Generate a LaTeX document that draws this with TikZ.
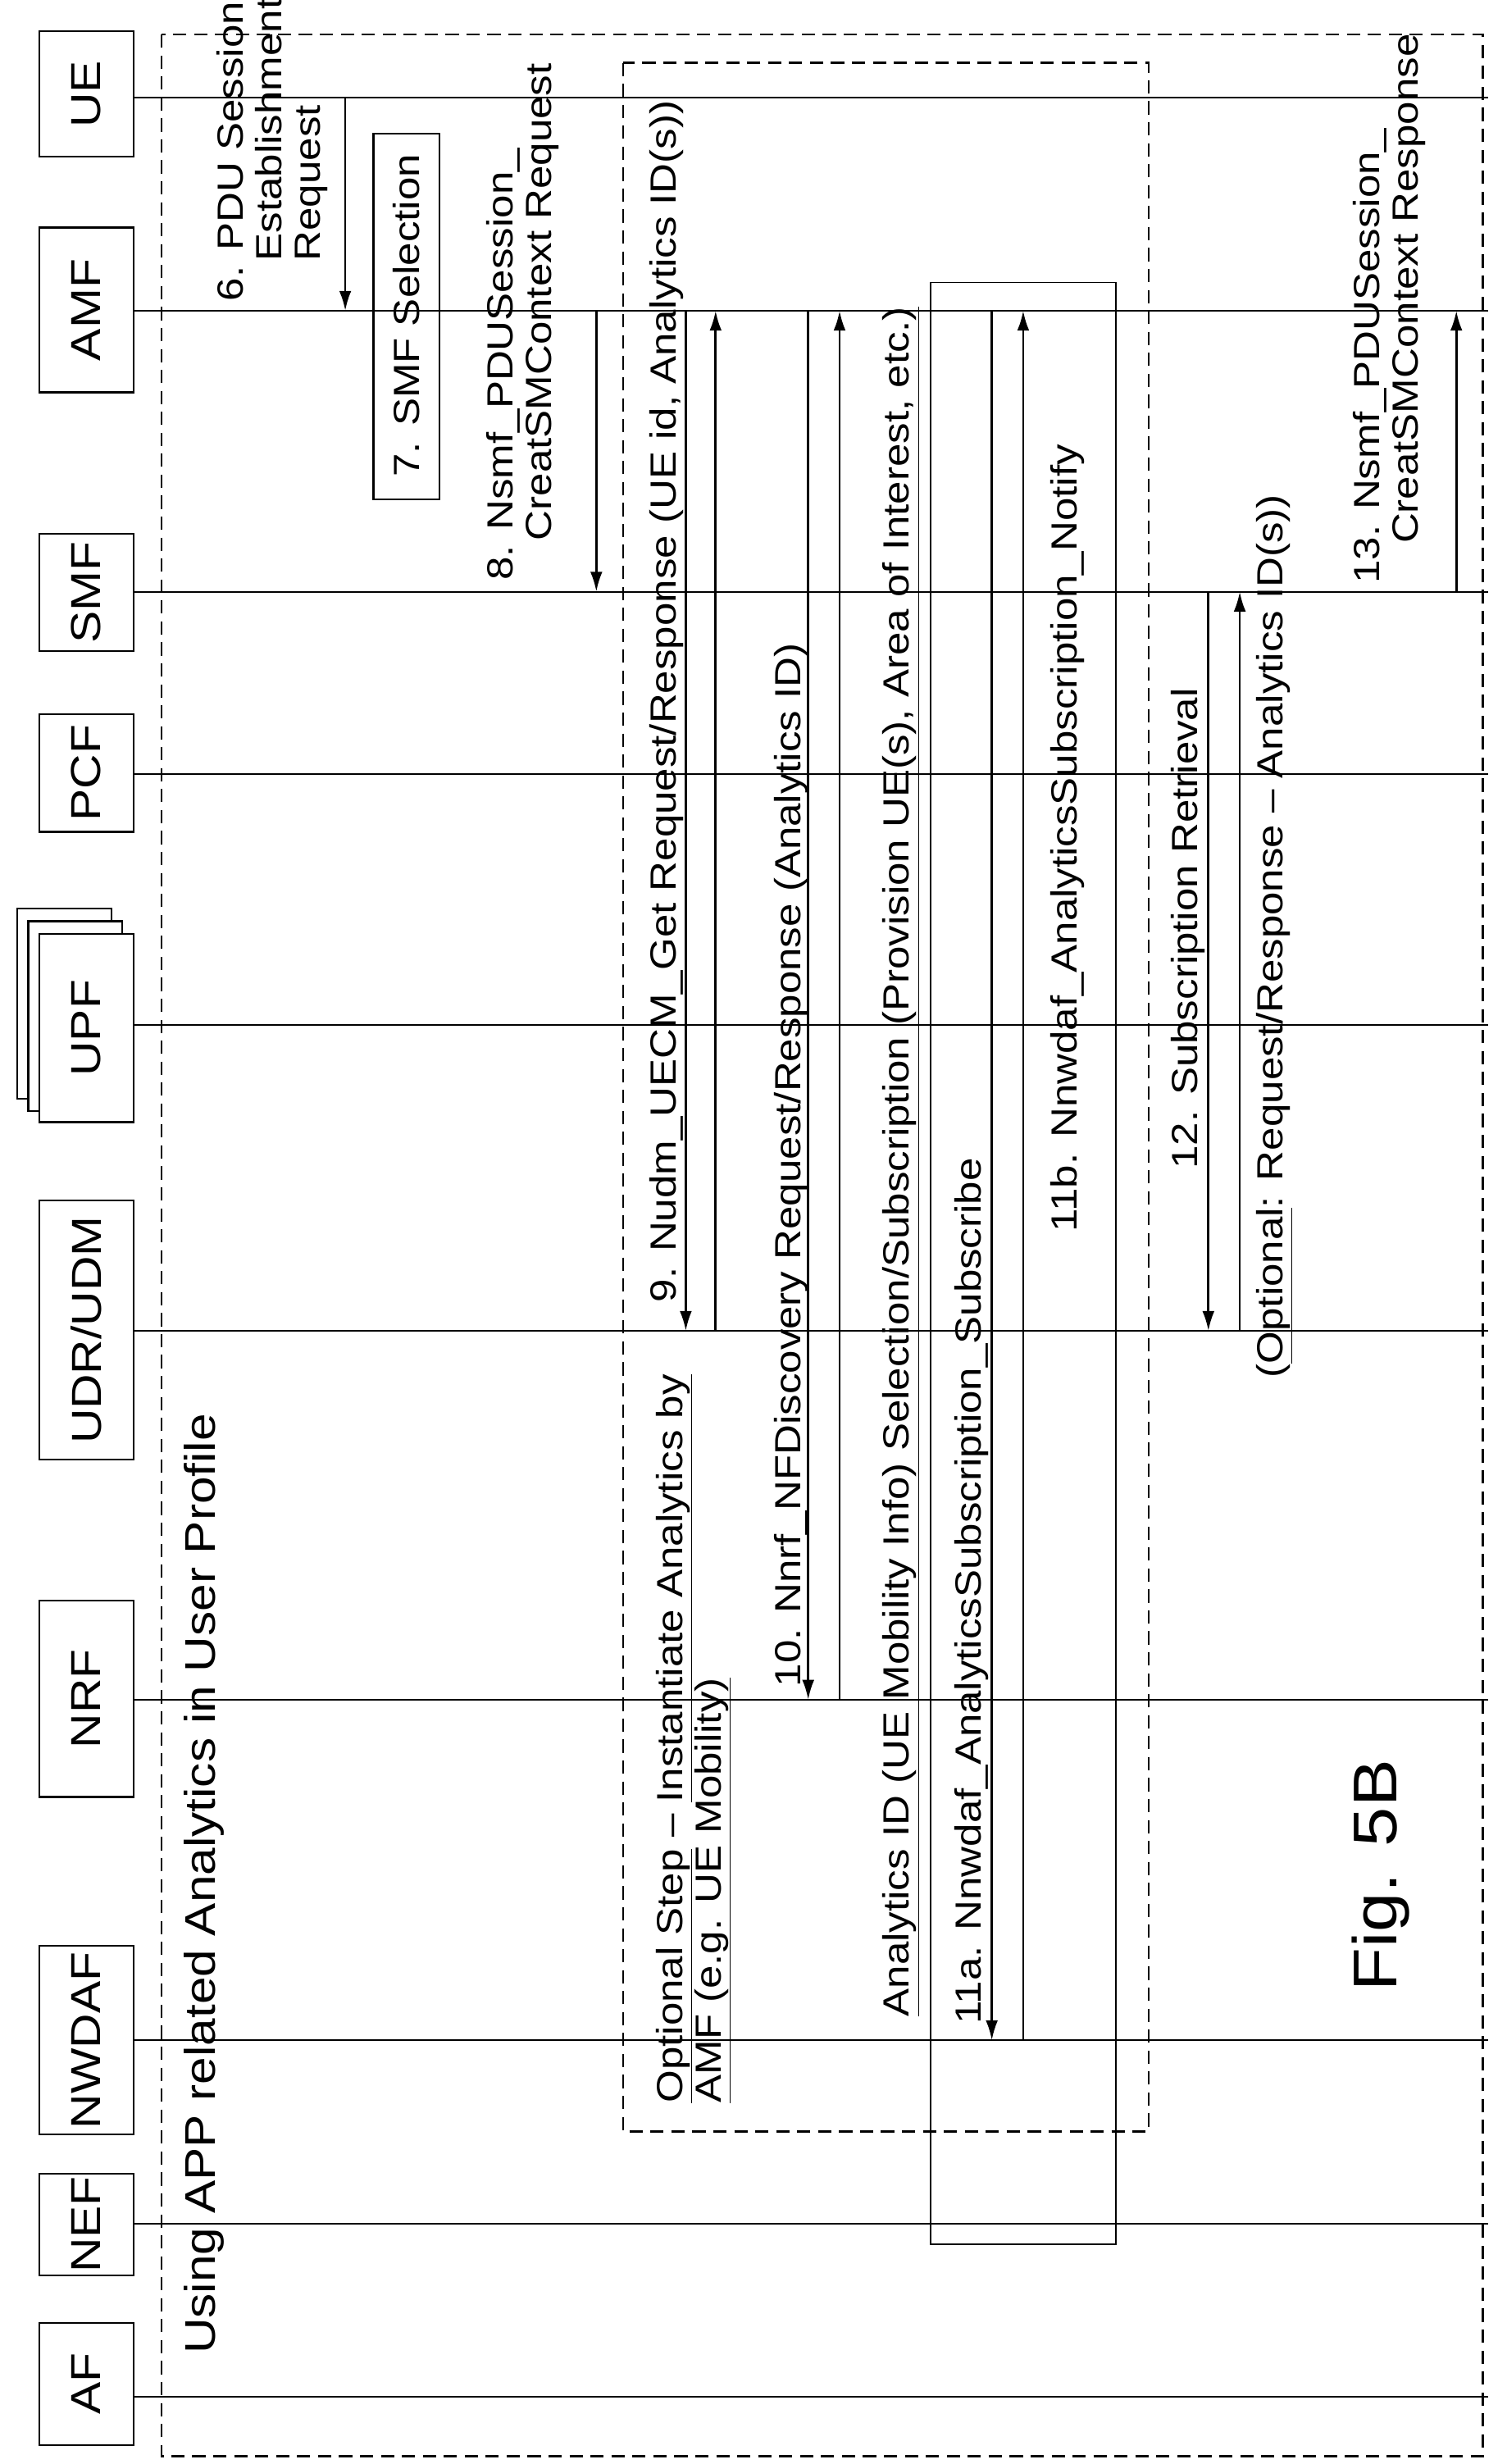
\documentclass[tikz,border=0pt]{standalone}
\usepackage{fontspec}
\setmainfont[FakeStretch=1.15]{Liberation Sans}
\usetikzlibrary{arrows.meta}
\begin{document}
\begin{tikzpicture}[x=0.05cm,y=-0.05cm,
  every node/.style={font=\fontsize{33}{35}\selectfont},
  lab/.style={rotate=90,anchor=west,inner sep=0pt,align=left},
  life/.style={line width=1.6pt},
  box/.style={line width=1.6pt,fill=white},
  msg/.style={line width=2pt,-{Latex[length=18pt,width=11pt]}},
  dbox/.style={draw,line width=2pt,dash pattern=on 12pt off 7pt}]
\useasboundingbox (0,0) rectangle (960,1570);
% lifelines
\foreach \n/\y in {UE/62,AMF/198,SMF/377,PCF/493,UPF/653,UDR/848,NRF/1083,NWDAF/1300,NEF/1417,AF/1527}{
  \coordinate (\n-s) at (85,\y); \coordinate (\n-e) at (948,\y);
  \draw[life] (\n-s) -- (\n-e);}
% entity boxes
\foreach \n/\a/\b/\t in {ue/20/100/{UE},amf/145/250/{AMF},smf/340/415/{SMF},pcf/455/530/{PCF},udr/765/930/{UDR/UDM},nrf/1020/1145/{NRF},nwdaf/1240/1360/{NWDAF},nef/1385/1450/{NEF},af/1480/1558/{AF}}{
  \draw[box] (25,\a) rectangle (85,\b);
  \node[rotate=90,font=\fontsize{38}{40}\selectfont] (\n) at (55,{(\a+\b)/2}) {\t};}
\draw[box] (11,579) rectangle (71,700);
\draw[box] (18,587) rectangle (78,708);
\draw[box] (25,595) rectangle (85,715);
\node[rotate=90,font=\fontsize{38}{40}\selectfont] (upf) at (55,655) {UPF};
% frames
\draw[dbox] (103,22) rectangle (945,1565);
\draw[dbox] (397,40) rectangle (732,1358);
\draw[line width=1.4pt] (593,180) rectangle (711,1430);
\node[lab,font=\fontsize{39}{42}\selectfont] (title) at (130,1500) {Using APP related Analytics in User Profile};
% 6
\draw[msg] (220,62) -- (220,198);
\node[lab,anchor=north west] (l6) at (138,192) {6. PDU Session\\ \hspace*{1.1em}Establishment\\ \hspace*{1.1em}Request};
% 7
\draw[line width=1.6pt] (238,85) rectangle (280,318);
\node[rotate=90] (smfsel) at (259,201) {7. SMF Selection};
% 8
\draw[msg] (380,198) -- (380,377);
\node[lab,anchor=north west] (l8) at (310,370) {8. Nsmf\_PDUSession\_\\ \hspace*{1.1em}CreatSMContext Request};
% 9
\draw[msg] (437,198) -- (437,848);
\draw[msg] (456,848) -- (456,198);
\node[lab] (l9) at (425,830) {9. Nudm\_UECM\_Get Request/Response (UE id, Analytics ID(s))};
\node[lab,anchor=north west] (opt) at (418,1340) {\underline{Optional Step} -- \underline{Instantiate Analytics by}\\ \underline{AMF (e.g. UE Mobility)}};
% 10
\draw[msg] (515,198) -- (515,1083);
\draw[msg] (535,1083) -- (535,198);
\node[lab] (l10) at (504,1075) {10. Nnrf\_NFDiscovery Request/Response (Analytics ID)};
\node[lab] (aid) at (574,1285) {\underline{Analytics ID (UE Mobility Info) Selection/Subscription (Provision UE(s), Area of Interest, etc.)}};
% 11
\draw[msg] (632,198) -- (632,1300);
\draw[msg] (652,1300) -- (652,198);
\node[lab] (l11a) at (619,1290) {11a. Nnwdaf\_AnalyticsSubscription\_Subscribe};
\node[lab] (l11b) at (680,785) {11b. Nnwdaf\_AnalyticsSubscription\_Notify};
% 12
\draw[msg] (770,377) -- (770,848);
\draw[msg] (790,848) -- (790,377);
\node[lab] (l12) at (757,745) {12. Subscription Retrieval};
\node[lab] (l12o) at (812,878) {(\underline{Optional}: Request/Response -- Analytics ID(s))};
% 13
\draw[msg] (928,377) -- (928,198);
\node[lab,anchor=north west] (l13) at (862,372) {13. Nsmf\_PDUSession\_\\ \hspace*{1.1em}CreatSMContext Response};
\node[rotate=90,font=\fontsize{56}{64}\selectfont] (fig) at (880,1195) {Fig. 5B};
\end{tikzpicture}
\end{document}
